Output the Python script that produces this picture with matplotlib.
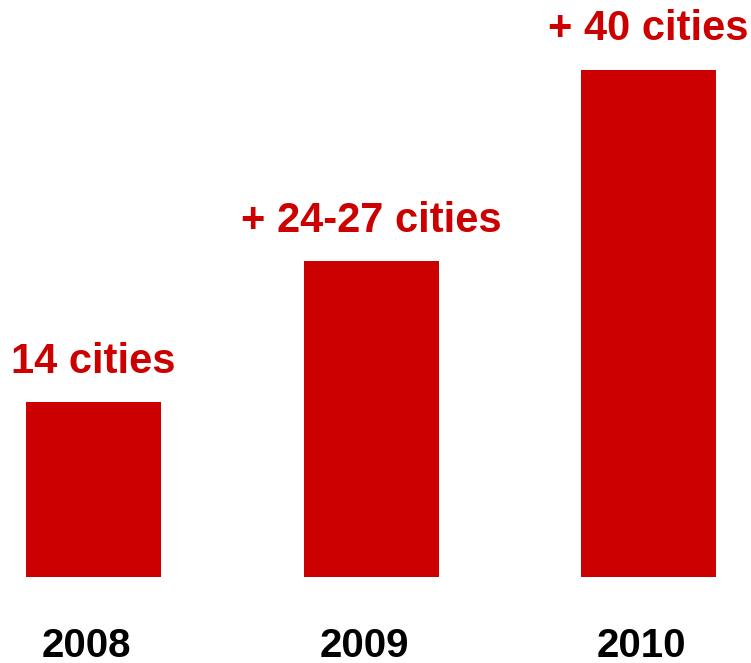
import matplotlib.pyplot as plt

years = ['2008', '2009', '2010']
values = [14, 25.3, 40.6]
labels = ['14 cities', '+ 24-27 cities', '+ 40 cities']

red = '#CC0000'

plt.rcParams['font.family'] = ['Liberation Sans', 'DejaVu Sans']

fig = plt.figure(figsize=(7.51, 6.63), dpi=100)
ax = fig.add_axes([0, 86 / 663, 1, 577 / 663])

x = list(range(len(years)))
bars = ax.bar(x, values, width=135 / 277.5, color=red)

for xi, v, lab in zip(x, values, labels):
    ax.annotate(lab, (xi, v), xytext=(0, 21), textcoords='offset points',
                ha='center', va='baseline', fontsize=30, fontweight='bold', color=red)

for xi, yr in zip(x, years):
    ax.annotate(yr, (xi, 0), xytext=(-5, -57.5), textcoords='offset points',
                ha='center', va='baseline', fontsize=29, fontweight='bold', color='black',
                annotation_clip=False)

ax.set_xlim(-93.5 / 277.5, (751 - 93.5) / 277.5)
ax.set_ylim(0, 577 / 12.5)
ax.axis('off')

plt.savefig('out.png', dpi=100)
